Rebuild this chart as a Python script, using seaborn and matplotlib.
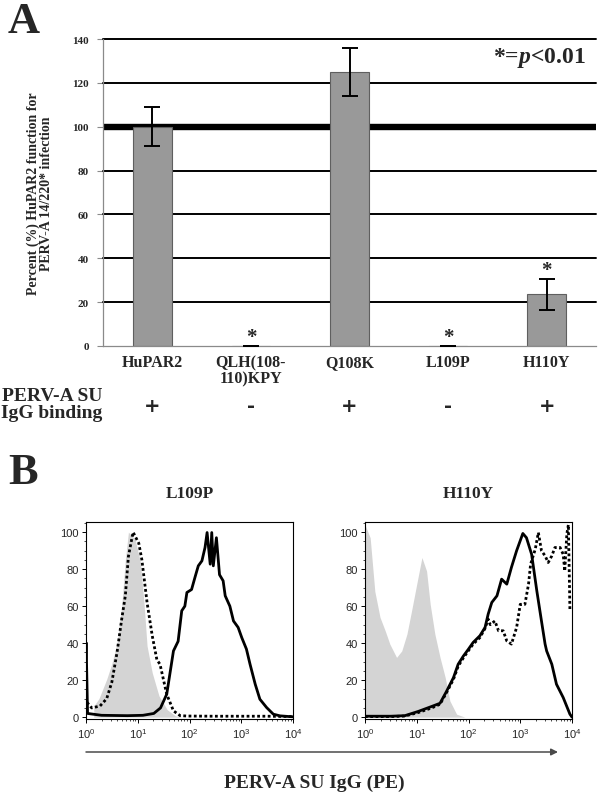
import numpy as np
import pandas as pd
import matplotlib
matplotlib.use("Agg")
import matplotlib.pyplot as plt
from matplotlib.ticker import MultipleLocator, LogLocator, NullFormatter, FuncFormatter
import seaborn as sns

# ---- panel A data
mutants = ["HuPAR2", "QLH(108-\n110)KPY", "Q108K", "L109P", "H110Y"]
percent_function = [100, 0, 125, 0, 23.5]
percent_err = [9, 0, 11, 0, 7]
significant = [False, True, False, True, True]
su_binding = ["+", "-", "+", "-", "+"]
y_ticks_a = [0, 20, 40, 60, 80, 100, 120, 140]

# ---- panel B data (log10 fluorescence, % of max)
l109p_iso_logx = [0.15, 0.25, 0.40, 0.50, 0.60, 0.69, 0.76, 0.82, 0.95, 1.05, 1.12,
                  1.18, 1.28, 1.41, 1.57, 1.73, 1.85]
l109p_iso_y = [6, 10, 20.5, 29, 40, 60, 85, 100, 96, 84, 62, 38.5, 24, 11.5, 4, 0.7, 0]
l109p_bind_logx = [0.01, 0.01, 0.03, 0.3, 0.8, 1.1, 1.31, 1.44, 1.56, 1.69, 1.78,
                   1.85, 1.91, 1.95, 2.04, 2.11, 2.17, 2.24, 2.30, 2.34, 2.40, 2.43,
                   2.46, 2.52, 2.58, 2.65, 2.69, 2.78, 2.85, 2.94, 3.01, 3.10, 3.17,
                   3.27, 3.36, 3.49, 3.62, 3.75, 3.94, 4.0]
l109p_bind_y = [40, 30, 2, 1, 0.8, 1, 2, 5, 12.4, 35.8, 41, 57.5, 60, 67.4, 69, 76,
                81.8, 84.5, 91.7, 99.8, 82.7, 99.8, 81.8, 97, 77, 73.7, 65.6, 60, 52,
                48.5, 43, 36.8, 28.6, 17.8, 9.7, 5.2, 1.6, 0.7, 0.3, 0.2]
l109p_ctrl_logx = [0.02, 0.11, 0.27, 0.40, 0.50, 0.60, 0.69, 0.76, 0.82, 0.91, 1.02,
                   1.08, 1.18, 1.28, 1.37, 1.43, 1.56, 1.69, 1.82, 1.96, 2.5, 3.0,
                   3.5, 4.0]
l109p_ctrl_y = [8, 5, 6, 10, 19, 35, 53, 65.6, 87, 100, 94, 85, 62, 44, 31, 28.6, 12.4,
                3.4, 0.8, 0.6, 0.5, 0.5, 0.5, 0.3]

h110y_iso_logx = [0.0, 0.10, 0.19, 0.29, 0.39, 0.48, 0.61, 0.71, 0.81, 0.90, 1.00,
                  1.10, 1.19, 1.26, 1.35, 1.45, 1.55, 1.64, 1.77, 1.93]
h110y_iso_y = [104, 97, 68, 54, 46.7, 39.5, 32.3, 35.8, 44.9, 57.5, 72, 86.3, 79, 61,
               44.9, 32.3, 21.4, 8.8, 1.6, 0]
h110y_bind_logx = [0.0, 0.5, 0.77, 1.03, 1.29, 1.45, 1.58, 1.71, 1.80, 1.90, 2.00,
                   2.09, 2.22, 2.32, 2.38, 2.45, 2.55, 2.64, 2.74, 2.83, 2.93, 3.05,
                   3.12, 3.22, 3.32, 3.41, 3.48, 3.51, 3.61, 3.70, 3.83, 3.96, 4.0]
h110y_bind_y = [0.5, 0.5, 0.8, 3.1, 5.8, 7.5, 14.2, 21.4, 28.6, 33, 36.8, 40.4, 44,
                48.5, 55.7, 62, 65.6, 74.6, 71.9, 81, 90, 99.3, 97, 88, 68.3, 52, 39.5,
                35.8, 28.6, 17.8, 10.6, 1.6, 0]
h110y_ctrl_logx = [0.0, 0.5, 0.77, 1.03, 1.29, 1.45, 1.58, 1.71, 1.80, 1.90, 2.00,
                   2.09, 2.22, 2.32, 2.38, 2.42, 2.51, 2.58, 2.67, 2.74, 2.83, 2.93,
                   3.00, 3.09, 3.16, 3.20, 3.29, 3.35, 3.41, 3.48, 3.54, 3.61, 3.67,
                   3.77, 3.83, 3.86, 3.90, 3.93, 3.96, 3.96]
h110y_ctrl_y = [0.3, 0.3, 0.6, 2.5, 5, 7, 13.5, 20.5, 27.5, 32, 36, 39.5, 43, 48, 53,
                50, 52, 46.7, 46.7, 41.2, 39.5, 48.5, 61, 61, 71.9, 82.7, 90.8, 99.8,
                90, 87.2, 83.6, 87.2, 91.7, 91.7, 88, 79, 99, 104, 57.5, 57.5]

sns.set_theme(style="white")
serif = ["Liberation Serif", "DejaVu Serif"]
sans = ["Liberation Sans", "DejaVu Sans"]
plt.rcParams["font.family"] = serif
plt.rcParams["mathtext.fontset"] = "custom"
plt.rcParams["mathtext.rm"] = "Liberation Serif:bold"
plt.rcParams["mathtext.it"] = "Liberation Serif:italic:bold"
plt.rcParams["mathtext.bf"] = "Liberation Serif:bold"
plt.rcParams["mathtext.sf"] = "Liberation Sans"

W, H = 600, 803
fig = plt.figure(figsize=(W / 100, H / 100), dpi=100)


def fx(px):
    return px / W


def fy(py):
    return 1 - py / H


# =================== Panel A ===================
ax = fig.add_axes([fx(103), fy(347), fx(596) - fx(103), fy(40) - fy(347)])
df_a = pd.DataFrame({"mutant": mutants, "pct": percent_function, "err": percent_err})
sns.barplot(data=df_a, x="mutant", y="pct", color="#999999", saturation=1,
            edgecolor="#5f5f5f", linewidth=0.8, width=0.39, errorbar=None,
            ax=ax, zorder=2)
ax.errorbar(np.arange(len(mutants)), df_a["pct"], yerr=df_a["err"], fmt="none",
            ecolor="black", elinewidth=1.4, capsize=5.5, capthick=1.4, zorder=3)

for yv in y_ticks_a[1:]:
    if yv == 100:
        ax.axhline(yv, color="black", lw=4.6, zorder=1)
    else:
        ax.axhline(yv, color="black", lw=1.4, zorder=1, clip_on=False)

for i, sig in enumerate(significant):
    if sig:
        top = percent_function[i] + percent_err[i]
        ax.text(i, top + 4, "*", ha="center", va="center", fontsize=15,
                fontweight="bold")

ax.set_ylim(0, 140)
ax.set_xlim(-0.5, len(mutants) - 0.5)
ax.set_yticks(y_ticks_a)
ax.set_yticklabels([str(v) for v in y_ticks_a], fontsize=8, fontweight="bold")
ax.set_xticks(np.arange(len(mutants)))
ax.set_xticklabels(mutants, fontsize=11.5, fontweight="bold", linespacing=1.0,
                   va="top")
ax.set_xticks(np.arange(len(mutants) + 1) - 0.5, minor=True)
ax.tick_params(axis="x", which="major", length=0, pad=6)
ax.tick_params(axis="x", which="minor", length=5, color="#8a8a8a", width=0.8)
ax.tick_params(axis="y", length=4, color="#8a8a8a", width=0.8, pad=6, left=True)
ax.set_xlabel("")
ax.set_ylabel("Percent (%) HuPAR2 function for\nPERV-A 14/220* infection",
              fontsize=10, fontweight="bold", linespacing=1.0, labelpad=14)
for s in ["left", "bottom"]:
    ax.spines[s].set_color("#8a8a8a")
    ax.spines[s].set_linewidth(0.9)
ax.spines["right"].set_visible(False)
ax.spines["top"].set_visible(False)

ax.text(0.98, 0.94, "*=$p$<0.01", transform=ax.transAxes, ha="right",
        va="center", fontsize=17, fontweight="bold")

row_y = (347 - 407) / 307
for i, s in enumerate(su_binding):
    ax.text(i, row_y, s, transform=ax.get_xaxis_transform(), ha="center",
            va="center", fontsize=14, fontweight="bold", family="DejaVu Sans")
fig.text(fx(52), fy(405), "PERV-A SU\nIgG binding", ha="center", va="center",
         fontsize=14, fontweight="bold", linespacing=0.95)

fig.text(fx(8), fy(22), "A", ha="left", va="center", fontsize=32,
         fontweight="bold")
fig.text(fx(8), fy(473), "B", ha="left", va="center", fontsize=32,
         fontweight="bold")

# =================== Panel B ===================
hist_panels = [
    ("L109P", 86, l109p_iso_logx, l109p_iso_y, l109p_bind_logx, l109p_bind_y,
     l109p_ctrl_logx, l109p_ctrl_y),
    ("H110Y", 365, h110y_iso_logx, h110y_iso_y, h110y_bind_logx, h110y_bind_y,
     h110y_ctrl_logx, h110y_ctrl_y),
]
decade_fmt = FuncFormatter(lambda v, p: "$\\mathsf{10^{%d}}$" % round(np.log10(v)))
hist_axes = []
for title, left_px, iso_x, iso_y, bind_x, bind_y, ctrl_x, ctrl_y in hist_panels:
    hx = fig.add_axes([fx(left_px), fy(720), fx(207), fy(523) - fy(720)])
    hist_axes.append(hx)
    iso_lin = np.power(10.0, iso_x)
    hx.fill_between(iso_lin, iso_y, 0, color="#d4d4d4", lw=0, zorder=1)
    sns.lineplot(x=np.power(10.0, ctrl_x), y=ctrl_y, sort=False, estimator=None,
                 color="black", lw=2.0, ax=hx, zorder=3)
    hx.lines[-1].set_linestyle((0, (1.0, 0.9)))
    sns.lineplot(x=np.power(10.0, bind_x), y=bind_y, sort=False, estimator=None,
                 color="black", lw=2.0, ax=hx, zorder=4)
    hx.set_xscale("log")
    hx.set_xlim(1, 1e4)
    hx.set_ylim(-1, 105.5)
    hx.set_yticks([0, 20, 40, 60, 80, 100])
    hx.yaxis.set_minor_locator(MultipleLocator(5))
    hx.xaxis.set_major_locator(LogLocator(base=10, numticks=10))
    hx.xaxis.set_major_formatter(decade_fmt)
    hx.xaxis.set_minor_locator(LogLocator(base=10, subs=np.arange(2, 10),
                                          numticks=20))
    hx.xaxis.set_minor_formatter(NullFormatter())
    hx.tick_params(which="major", direction="out", length=3, width=0.7,
                   color="black", labelsize=8, pad=2, left=True, bottom=True)
    hx.tick_params(which="minor", direction="out", length=1.6, width=0.5,
                   color="black", left=True, bottom=True)
    for lab in hx.get_xticklabels() + hx.get_yticklabels():
        lab.set_family(sans)
    for s in hx.spines.values():
        s.set_color("black")
        s.set_linewidth(0.8)
    hx.set_title(title, fontsize=12.5, fontweight="bold", pad=18)
    hx.set_xlabel("")
    hx.set_ylabel("")

hist_axes[0].annotate("", xy=(fx(558), fy(753)), xytext=(fx(86), fy(753)),
                      xycoords="figure fraction", textcoords="figure fraction",
                      arrowprops=dict(arrowstyle="-|>", color="#4a4a4a", lw=1.1,
                                      mutation_scale=10, shrinkA=0, shrinkB=0),
                      annotation_clip=False)
fig.text(fx(314), fy(783), "PERV-A SU IgG (PE)", ha="center", va="center",
         fontsize=14, fontweight="bold")

fig.savefig("out.png", dpi=100)
